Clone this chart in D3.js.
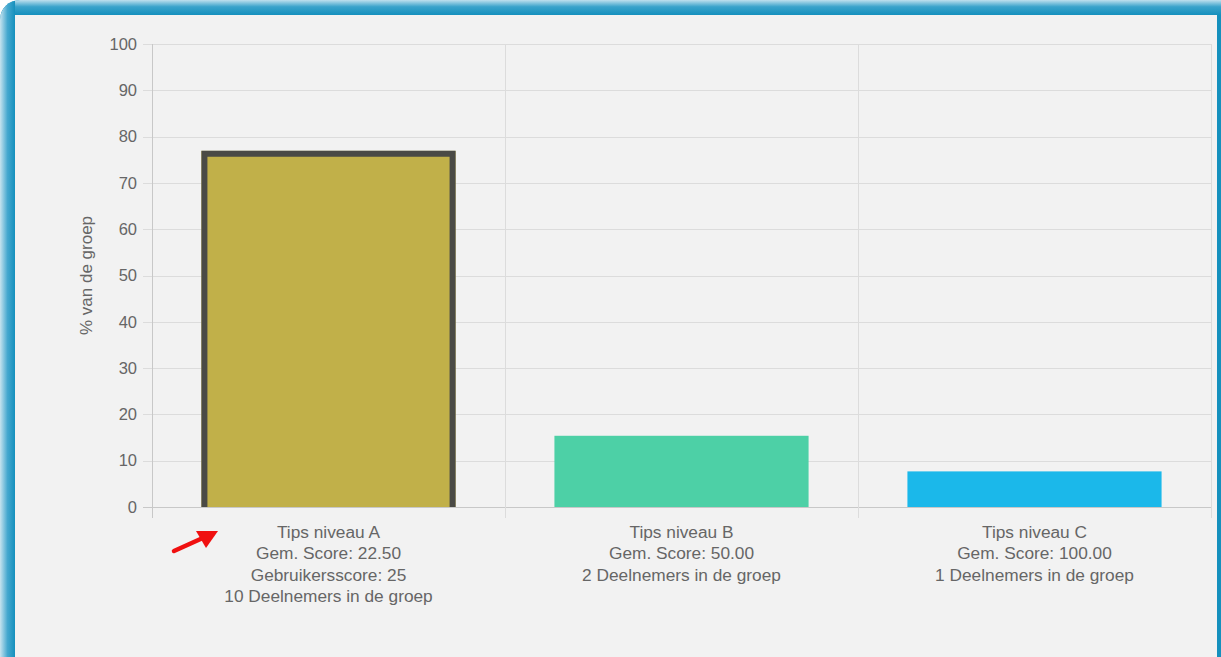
<!DOCTYPE html>
<html><head><meta charset="utf-8">
<script src="https://cdn.jsdelivr.net/npm/d3@7/dist/d3.min.js"></script>
<style>html,body{margin:0;padding:0;background:#fff;overflow:hidden}svg{display:block}</style>
</head><body>
<svg id="c" width="1221" height="657"></svg>
<script>
const categories = ["Tips niveau A", "Tips niveau B", "Tips niveau C"];
const values = [76.92, 15.38, 7.69];
const avgScores = ["22.50", "50.00", "100.00"];
const userScores = ["25", null, null];
const participants = [10, 2, 1];
const barColors = ["#c1b049", "#4dd0a6", "#1bb8ea"];
const borderColors = ["#4a4a45", null, null];
const yTicks = [0, 10, 20, 30, 40, 50, 60, 70, 80, 90, 100];
const yTitle = "% van de groep";

const svg = d3.select("#c");
const W = 1221, H = 657;
const defs = svg.append("defs");
const gTop = defs.append("linearGradient").attr("id","gt").attr("x1",0).attr("y1",0).attr("x2",0).attr("y2",1);
gTop.append("stop").attr("offset","0%").attr("stop-color","#bfe0ee");
gTop.append("stop").attr("offset","45%").attr("stop-color","#3aa3cb");
gTop.append("stop").attr("offset","100%").attr("stop-color","#1590bd");
const gLeft = defs.append("linearGradient").attr("id","gl").attr("x1",0).attr("y1",0).attr("x2",1).attr("y2",0);
gLeft.append("stop").attr("offset","0%").attr("stop-color","#c6e3ef");
gLeft.append("stop").attr("offset","50%").attr("stop-color","#45a8cf");
gLeft.append("stop").attr("offset","100%").attr("stop-color","#1590bd");
defs.append("clipPath").attr("id","rc").append("rect").attr("x",0).attr("y",0).attr("width",W+40).attr("height",H+40).attr("rx",20);

const frame = svg.append("g").attr("clip-path","url(#rc)");
frame.append("rect").attr("x",0).attr("y",0).attr("width",W).attr("height",H).attr("fill","#1590bd");
frame.append("rect").attr("x",0).attr("y",0).attr("width",W).attr("height",15).attr("fill","url(#gt)");
frame.append("rect").attr("x",0).attr("y",0).attr("width",15).attr("height",H).attr("fill","url(#gl)");
frame.append("rect").attr("x",15).attr("y",15).attr("width",1202).attr("height",H).attr("fill","#f2f2f2");

// Scales
const x = d3.scaleBand().domain(categories).range([152, 1211]).paddingInner(0).paddingOuter(0);
const y = d3.scaleLinear().domain([0, 100]).range([507, 44]);
const barW = x.bandwidth() * 0.72;

const g = svg.append("g");
// horizontal grid
g.selectAll("line.hg").data(yTicks).join("line")
  .attr("x1", 143).attr("x2", 1211)
  .attr("y1", d => Math.round(y(d)) + 0.5).attr("y2", d => Math.round(y(d)) + 0.5)
  .attr("stroke", d => d === 0 ? "#c8c8c8" : "#dcdcdc").attr("stroke-width", 1);
// vertical grid at category boundaries
const bounds = categories.map(c => x(c)).concat([x.range()[1]]);
g.selectAll("line.vg").data(bounds).join("line")
  .attr("x1", d => Math.round(d) + 0.5).attr("x2", d => Math.round(d) + 0.5)
  .attr("y1", 44).attr("y2", 518)
  .attr("stroke", (d,i) => i === 0 ? "#c8c8c8" : "#dcdcdc").attr("stroke-width", 1);

// y tick labels
g.selectAll("text.yt").data(yTicks).join("text")
  .attr("x", 137).attr("y", d => y(d)).attr("dy", "0.35em")
  .attr("text-anchor", "end").attr("fill", "#666")
  .style("font", "16.5px 'Liberation Sans', Arial, sans-serif").text(d => d);

// y title
g.append("text").attr("transform", "translate(92," + ((y(0)+y(100))/2) + ") rotate(-90)")
  .attr("text-anchor", "middle").attr("fill", "#666")
  .style("font", "17px 'Liberation Sans', Arial, sans-serif").text(yTitle);

// bars
const data = categories.map((c, i) => ({c, v: values[i], col: barColors[i], bc: borderColors[i]}));
const bars = g.selectAll("g.bar").data(data).join("g");
bars.append("rect")
  .attr("x", d => x(d.c) + (x.bandwidth() - barW) / 2)
  .attr("y", d => y(d.v))
  .attr("width", barW).attr("height", d => y(0) - y(d.v))
  .attr("fill", d => d.col);
// inner border (top, left, right) like Chart.js borderSkipped bottom
const bw = 6;
bars.filter(d => d.bc).append("path")
  .attr("d", d => {
    const x0 = x(d.c) + (x.bandwidth() - barW) / 2 + bw/2, x1 = x0 + barW - bw;
    const yt = y(d.v) + bw/2, yb = y(0);
    return `M${x0},${yb}L${x0},${yt}L${x1},${yt}L${x1},${yb}`;
  })
  .attr("fill", "none").attr("stroke", d => d.bc).attr("stroke-width", bw);

// x labels
const labelLines = categories.map((c, i) => {
  const l = [c, "Gem. Score: " + avgScores[i]];
  if (userScores[i] !== null) l.push("Gebruikersscore: " + userScores[i]);
  l.push(participants[i] + " Deelnemers in de groep");
  return l;
});
categories.forEach((c, i) => {
  const t = g.append("text").attr("text-anchor", "middle").attr("fill", "#666")
    .style("font", "17.3px 'Liberation Sans', Arial, sans-serif");
  labelLines[i].forEach((ln, j) => {
    t.append("tspan").attr("x", x(c) + x.bandwidth()/2).attr("y", 538 + j * 21.3).text(ln);
  });
});

// red arrow
const arrow = svg.append("g");
arrow.append("line").attr("x1", 174).attr("y1", 551).attr("x2", 205).attr("y2", 537)
  .attr("stroke", "#f01010").attr("stroke-width", 4.5).attr("stroke-linecap", "round");
arrow.append("path").attr("d", "M218,531 L196,531 L206,548 Z").attr("fill", "#f01010");
</script>
</body></html>
